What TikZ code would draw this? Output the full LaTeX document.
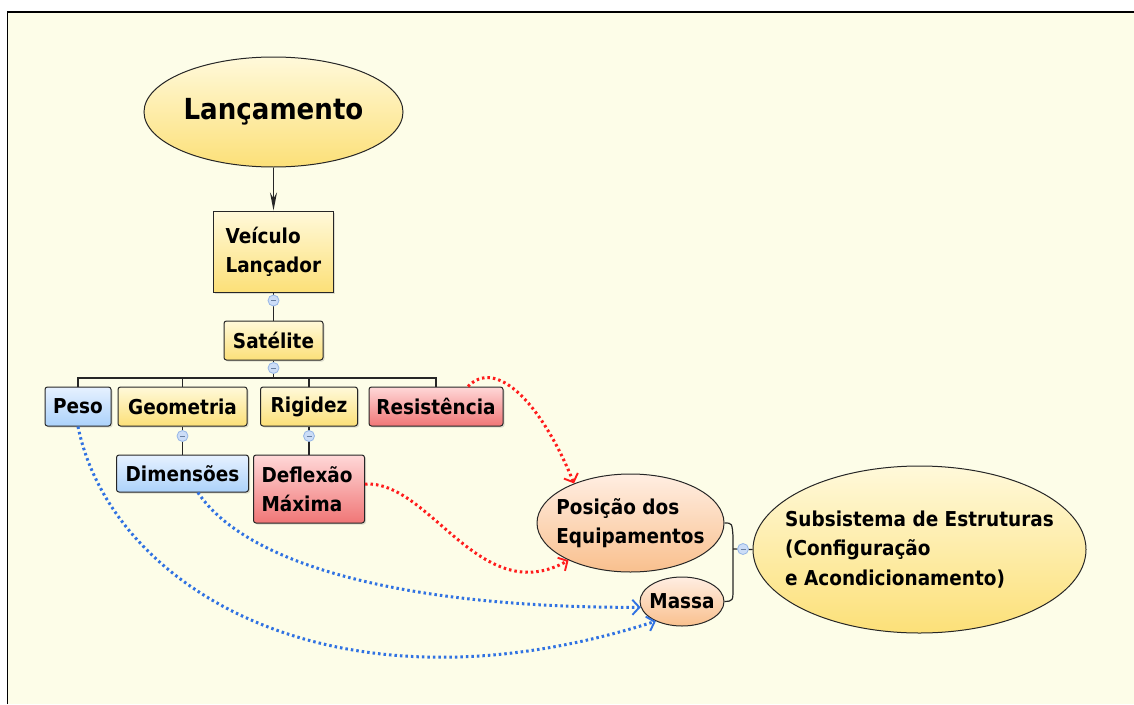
\documentclass[tikz,border=0pt]{standalone}
\usepackage{fontspec}
\setmainfont{DejaVu Sans}[FakeStretch=0.9]
\usetikzlibrary{arrows.meta,shapes,shadows}

\definecolor{paper}{RGB}{253,253,232}
\definecolor{yelTop}{RGB}{255,249,218}
\definecolor{yelBot}{RGB}{252,224,120}
\definecolor{bluTop}{RGB}{230,241,255}
\definecolor{bluBot}{RGB}{172,210,250}
\definecolor{redTop}{RGB}{255,216,216}
\definecolor{redBot}{RGB}{240,118,118}
\definecolor{pchTop}{RGB}{255,238,226}
\definecolor{pchBot}{RGB}{249,192,142}
\definecolor{dotRed}{RGB}{255,28,28}
\definecolor{dotBlue}{RGB}{48,114,226}
\definecolor{knobFill}{RGB}{204,221,247}
\definecolor{knobLine}{RGB}{150,182,230}

\tikzset{
  topic/.style={draw=black!85, line width=1pt, rounded corners=2.5pt, inner sep=0pt,
    minimum height=39pt, font=\fontsize{20.5}{29}\selectfont\bfseries,
    drop shadow={shadow xshift=1.5pt,shadow yshift=-1.5pt,opacity=0.25}},
  bubble/.style={ellipse, draw=black!85, line width=1pt, inner sep=0pt,
    font=\fontsize{20.5}{29.5}\selectfont\bfseries, align=left},
  yeltopic/.style={top color=yelTop, bottom color=yelBot},
  blutopic/.style={top color=bluTop, bottom color=bluBot},
  redtopic/.style={top color=redTop, bottom color=redBot},
  pchtopic/.style={top color=pchTop, bottom color=pchBot},
  link/.style={draw=black!85, line width=1.2pt},
  knob/.style={circle, draw=knobLine, fill=knobFill, line width=0.8pt, minimum size=11pt,
    inner sep=0pt, path picture={\draw[knobLine!70!black, line width=0.6pt]
      ([xshift=-2.5pt]path picture bounding box.center) -- ([xshift=2.5pt]path picture bounding box.center);}},
  dotlink/.style={line width=3pt, dash pattern=on 2.5pt off 3pt,
    -{Straight Barb[length=7pt,width=15pt,line width=1.9pt]}}
}

\begin{document}
\begin{tikzpicture}[x=1pt,y=-1pt]
\useasboundingbox (0,0) rectangle (1134,704);
\fill[paper] (7,12) rectangle (1134,704);
\draw[line width=1pt] (7,704) -- (7,12);
\draw[line width=2pt] (7,12) -- (1134,12);

% main topic and branch
\path (273.5,112) node(lanc)[bubble,yeltopic,minimum width=259pt,minimum height=110pt,
  font=\fontsize{29}{32}\selectfont\bfseries] {Lançamento};
\path (273.5,251.5) node(veic)[topic,yeltopic,sharp corners,minimum width=120pt,minimum height=81pt,
  text width=96pt,align=left] {Veículo\\Lançador};
\path (273.5,340.5) node(sat)[topic,yeltopic,minimum width=99pt] {Satélite};

% requirements row
\path (78,406.5) node(peso)[topic,blutopic,minimum width=66pt] {Peso};
\path (182.5,406.5) node(geom)[topic,yeltopic,minimum width=129pt] {Geometria};
\path (309,406.5) node(rig)[topic,yeltopic,minimum width=97pt] {Rigidez};
\path (436,406.5) node(resis)[topic,redtopic,minimum width=134pt] {Resistência};
\path (182.5,473.5) node(dim)[topic,blutopic,minimum width=132pt,minimum height=37pt] {Dimensões};
\path (309,489) node(defl)[topic,redtopic,minimum width=111pt,minimum height=68pt,
  text width=95pt,align=left] {Deflexão\\Máxima};

% structure side
\path (630.5,523) node(pos)[bubble,pchtopic,minimum width=187pt,minimum height=98pt,
  inner xsep=-12pt] {Posição dos\\Equipamentos};
\path (682,601.5) node(massa)[bubble,pchtopic,minimum width=84pt,minimum height=49pt,
  inner xsep=-6pt] {Massa};
\path (919.5,549.5) node(sub)[bubble,yeltopic,minimum width=333pt,minimum height=167pt,
  inner xsep=-24pt] {Subsistema de Estruturas\\(Configuração\\e Acondicionamento)};

% tree lines
\coordinate (bus) at (273.5,378);
\coordinate (brk) at (733,549);
\draw[link,-{Stealth[length=18pt,width=7pt]}] (lanc) -- (veic);
\draw[link] (veic) -- (sat);
\draw[link] (sat) -- (bus);
\draw[link] (bus) -| (peso);
\draw[link] (bus) -| (geom);
\draw[link] (bus) -| (rig);
\draw[link] (bus) -| (resis);
\draw[link] (geom) -- (dim);
\draw[link] (rig) -- (defl);
\draw[link] (pos.east) .. controls (732,523) .. (733,536) -- (733,588) .. controls (733,601) .. (massa.east);
\draw[link] (brk) -- (sub.west);
\path (273.5,300.5) node(k1)[knob] {};
\path (273.5,368) node(k2)[knob] {};
\path (182.5,436) node(k3)[knob] {};
\path (309,436) node(k4)[knob] {};
\path (743,549) node(k5)[knob] {};

% relations
\draw[dotlink,dotRed] (resis.32) .. controls (495,358) and (540,400) .. (pos.145);
\draw[dotlink,dotRed] (defl.5) .. controls (430,480) and (480,610) .. (pos.211);
\draw[dotlink,dotBlue] (dim.309) .. controls (250,570) and (420,608) .. (massa.188);
\draw[dotlink,dotBlue] (peso.south) .. controls (110,585) and (330,725) .. (massa.217);
\end{tikzpicture}
\end{document}
